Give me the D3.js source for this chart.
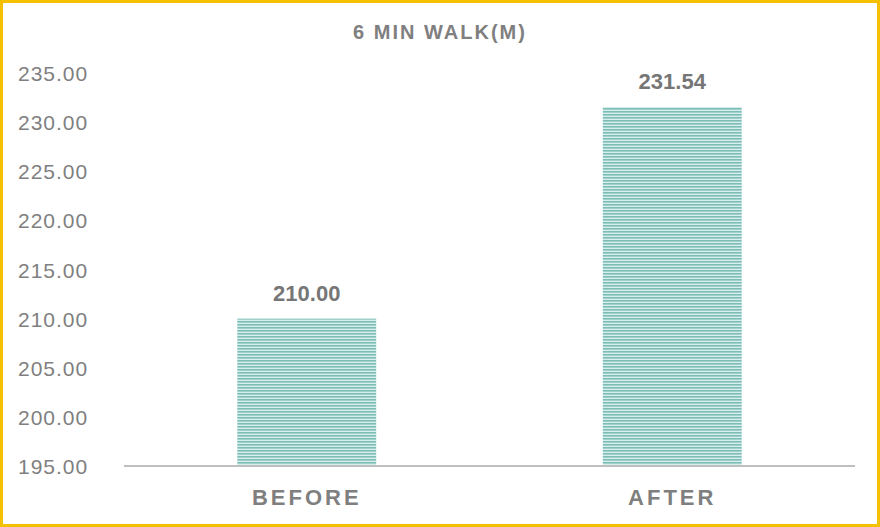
<!DOCTYPE html>
<html><head><meta charset="utf-8">
<script src="https://cdn.jsdelivr.net/npm/d3@7"></script>
<style>body{margin:0;background:#fff}</style>
</head><body>
<svg id="c" width="880" height="527"></svg>
<script>
const categories = ["BEFORE", "AFTER"];
const values = [210.00, 231.54];
const yTicks = [195, 200, 205, 210, 215, 220, 225, 230, 235];

const svg = d3.select("#c");
svg.append("rect").attr("x", 1.5).attr("y", 1.5).attr("width", 877).attr("height", 524)
  .attr("fill", "#fff").attr("stroke", "#f5c000").attr("stroke-width", 3);

const defs = svg.append("defs");
const pat = defs.append("pattern").attr("id", "stripes").attr("patternUnits", "userSpaceOnUse")
  .attr("width", 4).attr("height", 3);
pat.append("rect").attr("width", 4).attr("height", 3).attr("fill", "#d6efec");
pat.append("rect").attr("width", 4).attr("height", 1.6).attr("fill", "#7dbdb6");

const x = d3.scaleBand().domain(categories).range([124, 855]).paddingInner(0.62).paddingOuter(0.31);
const y = d3.scaleLinear().domain([195, 235]).range([466, 73]);

svg.append("text").attr("x", 440).attr("y", 39).attr("text-anchor", "middle")
  .attr("font-family", "Liberation Sans, Arial").attr("font-weight", "bold").attr("font-size", 20)
  .attr("letter-spacing", 2).attr("fill", "#7f7f7f").text("6 MIN WALK(M)");

svg.append("g").selectAll("text").data(yTicks).join("text")
  .attr("x", 18).attr("y", d => y(d) + 8)
  .attr("font-family", "Liberation Sans, Arial").attr("font-size", 21).attr("letter-spacing", 1)
  .attr("fill", "#7f7f7f").text(d => d3.format(".2f")(d));

svg.append("g").selectAll("rect").data(values).join("rect")
  .attr("x", (d, i) => x(categories[i])).attr("width", x.bandwidth())
  .attr("y", d => y(d)).attr("height", d => y(195) - y(d))
  .attr("fill", "url(#stripes)");

svg.append("g").selectAll("text").data(values).join("text")
  .attr("x", (d, i) => x(categories[i]) + x.bandwidth() / 2).attr("y", d => y(d) - 18)
  .attr("text-anchor", "middle").attr("font-family", "Liberation Sans, Arial")
  .attr("font-weight", "bold").attr("font-size", 22).attr("fill", "#767676")
  .text(d => d3.format(".2f")(d));

svg.append("line").attr("x1", 124).attr("x2", 855).attr("y1", y(195)).attr("y2", y(195))
  .attr("stroke", "#bfbfbf").attr("stroke-width", 2);

svg.append("g").selectAll("text").data(categories).join("text")
  .attr("x", d => x(d) + x.bandwidth() / 2).attr("y", 505)
  .attr("text-anchor", "middle").attr("font-family", "Liberation Sans, Arial")
  .attr("font-weight", "bold").attr("font-size", 22).attr("letter-spacing", 3)
  .attr("fill", "#7f7f7f").text(d => d);
</script>
</body></html>
